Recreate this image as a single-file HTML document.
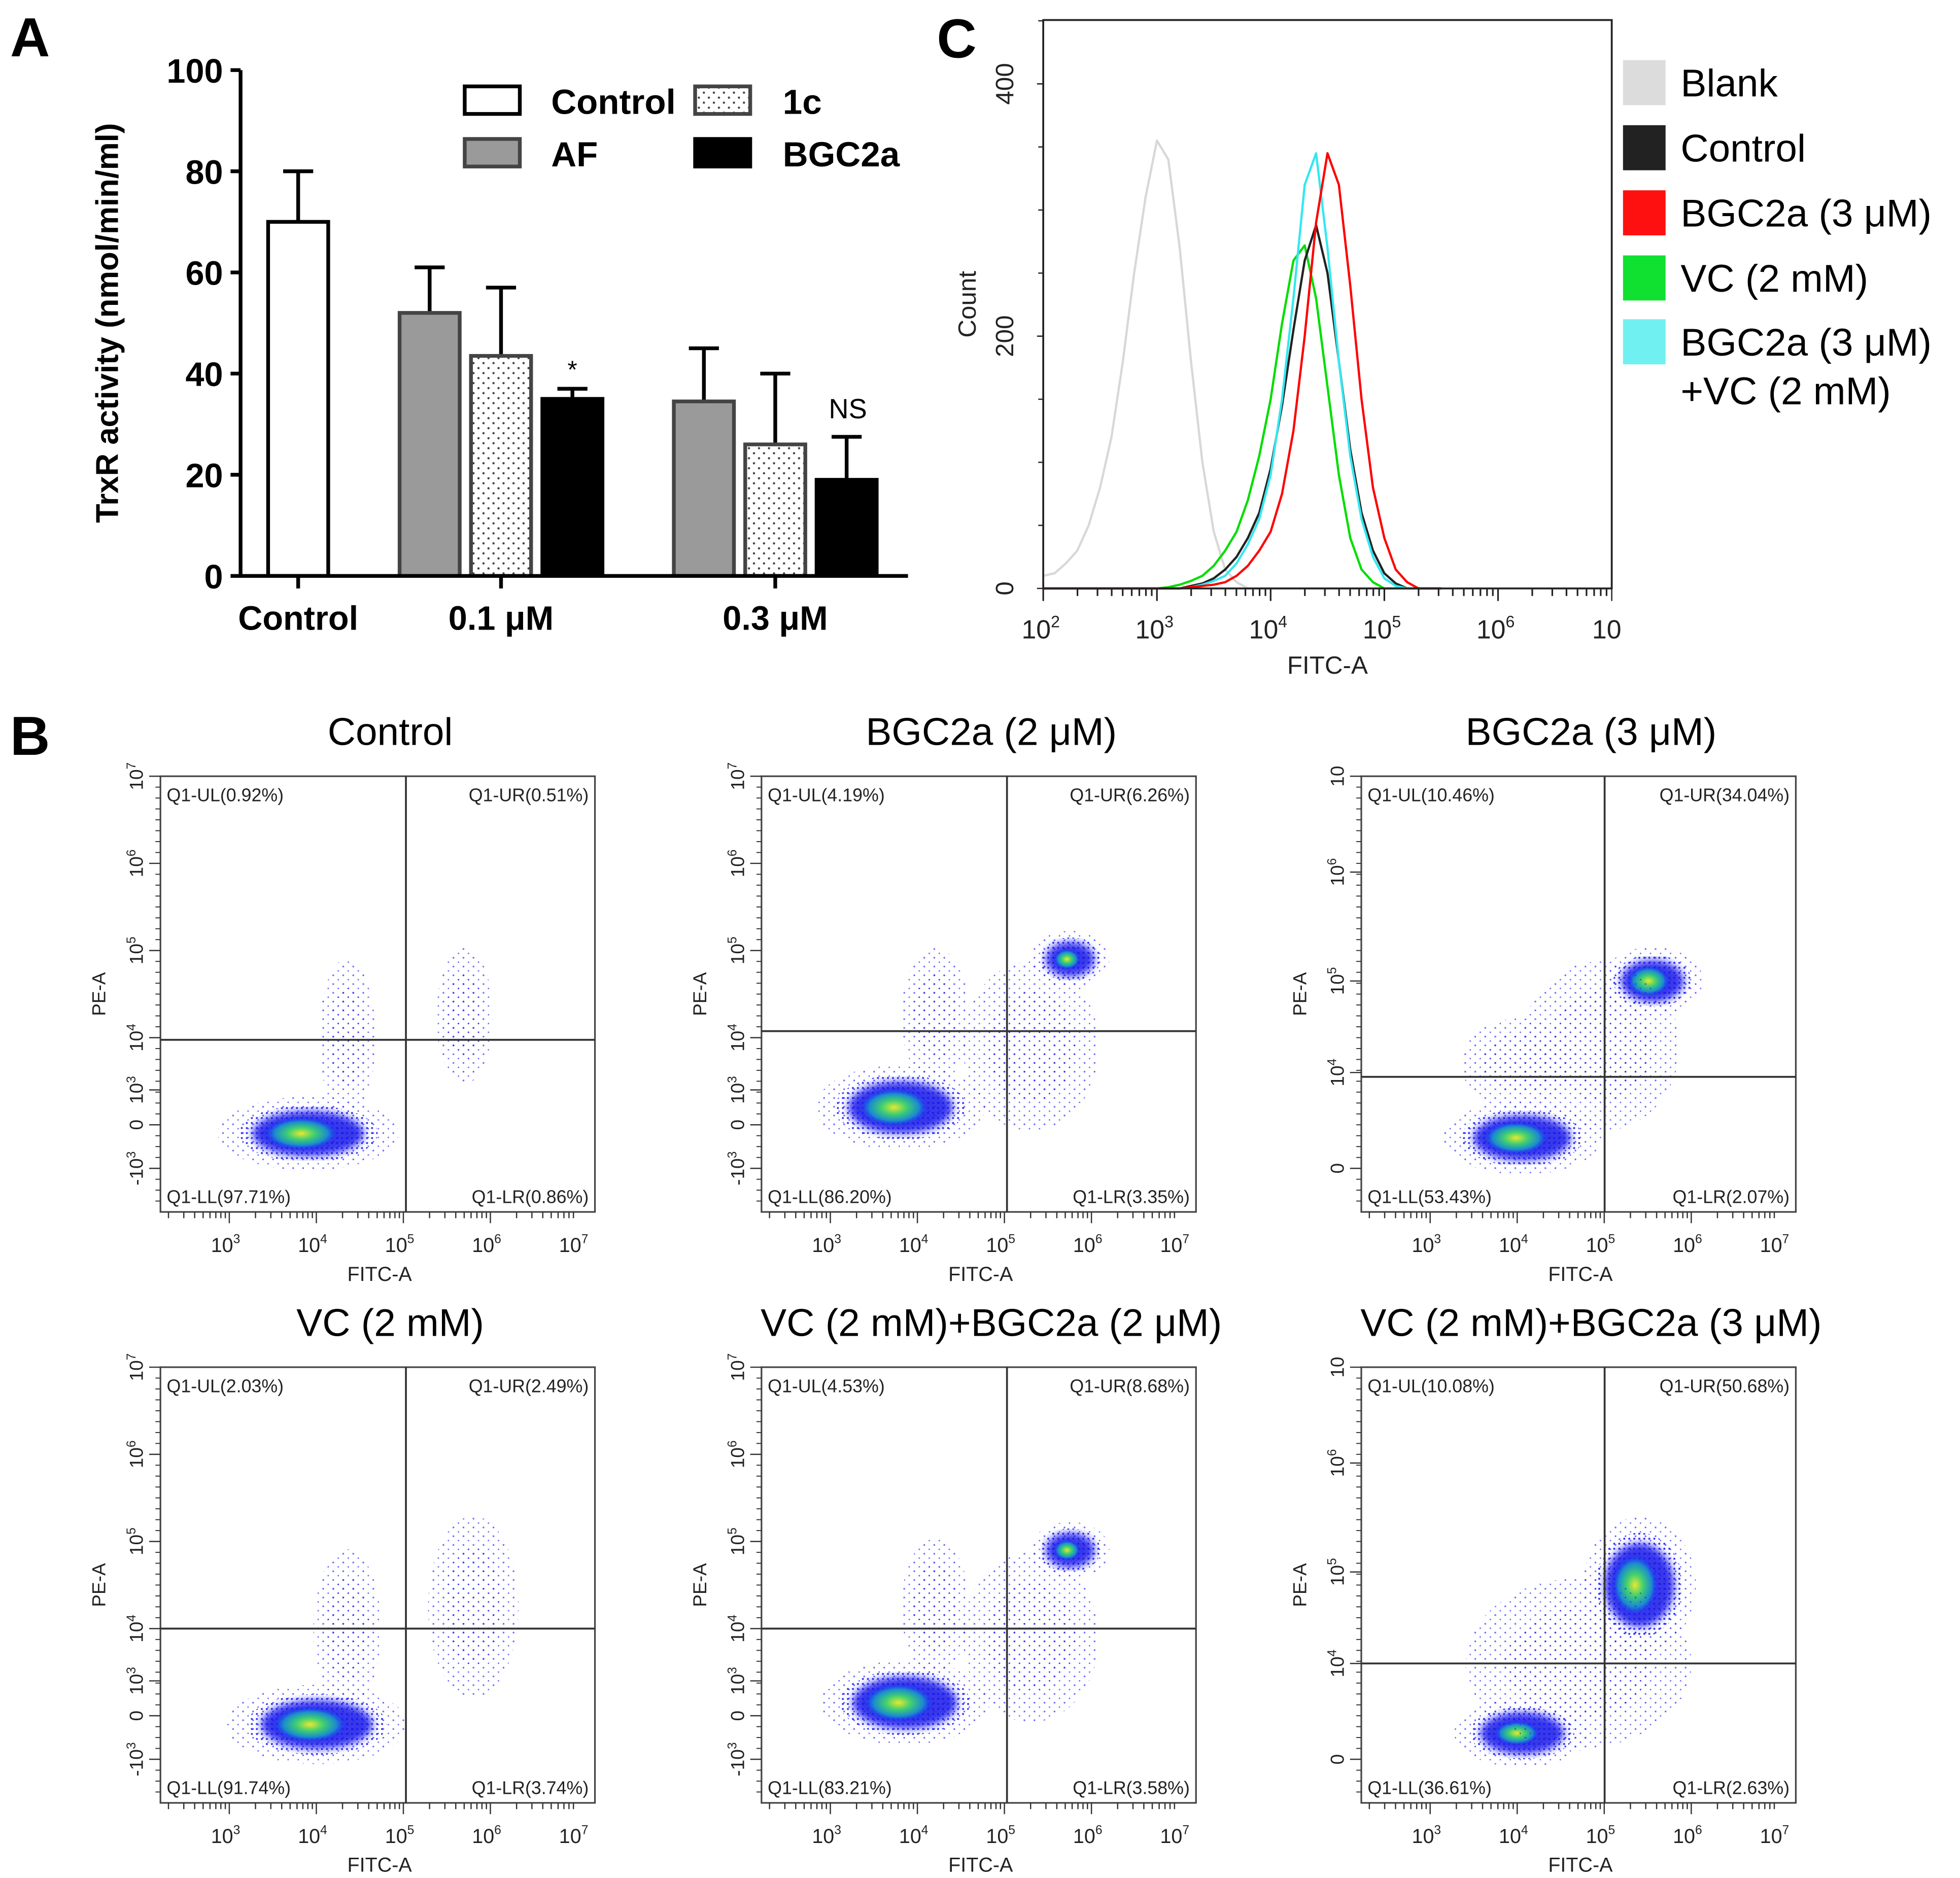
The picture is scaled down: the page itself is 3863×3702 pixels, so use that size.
<!DOCTYPE html>
<html><head><meta charset="utf-8"><style>
html,body{margin:0;padding:0;background:#fff}
svg{display:block}
text{font-family:"Liberation Sans",Arial,sans-serif}
</style></head><body>
<svg id="fig" xmlns="http://www.w3.org/2000/svg" width="3863" height="3702" viewBox="0 0 1565 1500">
<defs>
<pattern id="dots" width="4" height="4" patternUnits="userSpaceOnUse"><circle cx="1" cy="1" r="0.8" fill="#1a1aff"/></pattern>
<pattern id="dots2" width="8" height="7" patternUnits="userSpaceOnUse"><circle cx="2" cy="2" r="0.7" fill="#2a2aff"/><circle cx="6" cy="5.5" r="0.6" fill="#2a2aff"/></pattern>
<pattern id="stip" width="8" height="8" patternUnits="userSpaceOnUse"><rect width="8" height="8" fill="#fff"/><circle cx="2" cy="2" r="0.9" fill="#444"/><circle cx="6" cy="6" r="0.9" fill="#444"/></pattern>
<radialGradient id="core"><stop offset="0" stop-color="#e8e830"/><stop offset="0.35" stop-color="#40d070"/><stop offset="0.7" stop-color="#1a8ad0"/><stop offset="1" stop-color="#1a1aff" stop-opacity="0"/></radialGradient>
<filter id="blur"><feGaussianBlur stdDeviation="3"/></filter>
</defs>
<g id="root"></g>
</svg>
<script>
// ---------- Panel A data ----------
const barGroups = ["Control","0.1 μM","0.3 μM"];
const barSeries = ["Control","AF","1c","BGC2a"];
const barValues = [70, 52, 43.5, 35, 34.5, 26, 19];
const barErrors = [80, 61, 57, 37, 45, 40, 27.5];
const barKinds  = ["Control","AF","1c","BGC2a","AF","1c","BGC2a"];
const barGroupIdx = [0,1,1,1,2,2,2];
const yTicksA = [0,20,40,60,80,100];
// ---------- Panel C data ----------
const histLog = [2.0,2.1,2.2,2.3,2.4,2.5,2.6,2.7,2.8,2.9,3.0,3.1,3.2,3.3,3.4,3.5,3.6,3.7,3.8,3.9,4.0,4.1,4.2,4.3,4.4,4.5,4.6,4.7,4.8,4.9,5.0,5.1,5.2,5.3,5.4,5.5];
const histBlank   = [10,12,20,30,50,80,120,180,250,310,355,340,270,180,100,45,15,5,0,0,0,0,0,0,0,0,0,0,0,0,0,0,0,0,0,0];
const histVC      = [0,0,0,0,0,0,0,0,0,0,0,1,3,6,10,18,30,45,70,105,150,210,260,272,230,160,90,40,15,5,0,0,0,0,0,0];
const histControl = [0,0,0,0,0,0,0,0,0,0,0,0,0,2,4,8,15,25,40,60,95,145,205,260,288,250,180,110,60,30,12,4,0,0,0,0];
const histCombo   = [0,0,0,0,0,0,0,0,0,0,0,0,0,1,3,6,10,20,35,55,90,150,230,320,345,270,180,105,55,25,8,2,0,0,0,0];
const histBGC     = [0,0,0,0,0,0,0,0,0,0,0,0,0,1,2,3,5,10,18,30,45,75,125,200,290,345,320,240,150,80,40,15,5,0,0,0];
const histNames = ["Blank","Control","BGC2a (3 μM)","VC (2 mM)","BGC2a (3 μM)","+VC (2 mM)"];
// ---------- Panel B data ----------
const plotTitles = ["Control","BGC2a (2 μM)","BGC2a (3 μM)","VC (2 mM)","VC (2 mM)+BGC2a (2 μM)","VC (2 mM)+BGC2a (3 μM)"];
const qUL = ["0.92%","4.19%","10.46%","2.03%","4.53%","10.08%"];
const qUR = ["0.51%","6.26%","34.04%","2.49%","8.68%","50.68%"];
const qLL = ["97.71%","86.20%","53.43%","91.74%","83.21%","36.61%"];
const qLR = ["0.86%","3.35%","2.07%","3.74%","3.58%","2.63%"];
const gateX = [0.565,0.565,0.56,0.565,0.565,0.56];
const gateY = [0.605,0.585,0.69,0.6,0.6,0.68];
const clusterPlot = [0,0,0, 1,1,1,1, 2,2,2,2, 3,3,3, 4,4,4,4, 5,5,5];
const clusterX    = [0.34,0.43,0.7, 0.32,0.4,0.71,0.62, 0.37,0.36,0.67,0.55, 0.36,0.43,0.72, 0.33,0.4,0.71,0.62, 0.37,0.64,0.5];
const clusterY    = [0.82,0.6,0.55, 0.76,0.55,0.42,0.62, 0.83,0.66,0.47,0.62, 0.82,0.6,0.55, 0.77,0.55,0.42,0.62, 0.84,0.5,0.68];
const clusterRX   = [0.16,0.05,0.05, 0.15,0.06,0.07,0.12, 0.14,0.1,0.09,0.14, 0.16,0.06,0.08, 0.15,0.06,0.07,0.12, 0.12,0.1,0.2];
const clusterRY   = [0.065,0.14,0.12, 0.075,0.12,0.05,0.15, 0.065,0.08,0.06,0.15, 0.07,0.14,0.16, 0.075,0.12,0.05,0.15, 0.06,0.12,0.15];
const clusterCore = [1,0,0, 1,0,0.8,0, 1,0,1,0, 1,0,0, 1,0,0.8,0, 0.8,1,0];

const NS="http://www.w3.org/2000/svg";
const root=document.getElementById('root');
function mk(tag,attrs,parent,txt){const e=document.createElementNS(NS,tag);for(const k in attrs)e.setAttribute(k,attrs[k]);if(txt!==undefined)e.textContent=txt;(parent||root).appendChild(e);return e;}

// ===== Panel A =====
const gA=mk('g',{});


const t=mk('text',{x:8,y:45,'font-size':44,'font-weight':'bold'},gA,'A');

const yA=v=>460-v*4.04;
const groupCenter=[238,400,619];
const barW=48;
function barX(i){const g=barGroupIdx[i];if(g===0)return groupCenter[0]-barW/2;const k=barKinds[i];const off={AF:-1,"1c":0,BGC2a:1}[k];return groupCenter[g]-barW/2+off*57;}
function barStyle(k){return {Control:{fill:'#fff',stroke:'#000'},AF:{fill:'#9a9a9a',stroke:'#444'},"1c":{fill:'url(#stip)',stroke:'#444'},BGC2a:{fill:'#000',stroke:'#000'}}[k];}
for(let i=0;i<barValues.length;i++){
  const x=barX(i),s=barStyle(barKinds[i]);
  const xc=x+barW/2;
  const eb=mk('path',{d:`M${xc} ${yA(barValues[i])}V${yA(barErrors[i])}M${xc-12} ${yA(barErrors[i])}H${xc+12}`,stroke:'#000','stroke-width':3,fill:'none'},gA);
  
  const r=mk('rect',{x:x,y:yA(barValues[i]),width:barW,height:yA(0)-yA(barValues[i]),fill:s.fill,stroke:s.stroke,'stroke-width':3},gA);
  
}
mk('path',{d:'M192 56V460H725',stroke:'#000','stroke-width':3,fill:'none'},gA);
yTicksA.forEach(v=>{mk('line',{x1:184,x2:192,y1:yA(v),y2:yA(v),stroke:'#000','stroke-width':3},gA);
  const tt=mk('text',{x:178,y:yA(v)+10,'font-size':27,'font-weight':'bold','text-anchor':'end'},gA,v);
  });
barGroups.forEach((g,i)=>{mk('line',{x1:groupCenter[i],x2:groupCenter[i],y1:460,y2:470,stroke:'#000','stroke-width':3},gA);
  const tt=mk('text',{x:groupCenter[i],y:503,'font-size':27,'font-weight':'bold','text-anchor':'middle'},gA,g);
  });
const yt=mk('text',{transform:'translate(94,258) rotate(-90)','font-size':25,'font-weight':'bold','text-anchor':'middle'},gA,'TrxR activity (nmol/min/ml)');

mk('text',{x:457,y:302,'font-size':20,'text-anchor':'middle'},gA,'*');
mk('text',{x:677,y:334,'font-size':22,'text-anchor':'middle'},gA,'NS');
const legA=[[371,69,"Control"],[555,69,"1c"],[371,111,"AF"],[555,111,"BGC2a"]];
legA.forEach(([x,y,n])=>{const s=barStyle(n);
  const r=mk('rect',{x:x,y:y,width:44,height:22,fill:s.fill,stroke:s.stroke,'stroke-width':3},gA);
  
  const tt=mk('text',{x:x+(n==="Control"||n==="AF"?69:70),y:y+22,'font-size':28,'font-weight':'bold'},gA,n);
  });

// ===== Panel C =====
const gC=mk('g',{});


mk('text',{x:748,y:46,'font-size':44,'font-weight':'bold'},gC,'C');
const xC=l=>833+(l-2)*90.8, yC=c=>470-c*1.0075;
const series=[[histBlank,'#d8d8d8','blank'],[histVC,'#00dd00','vc'],[histControl,'#222','control'],[histCombo,'#33e8f0','bgc2a-vc'],[histBGC,'#ff0000','bgc2a']];
series.forEach(([arr,col,nm])=>{
  let d='';arr.forEach((c,i)=>{d+=(i?'L':'M')+xC(histLog[i]).toFixed(1)+' '+yC(c).toFixed(1);});
  const p=mk('path',{d:d,stroke:col,'stroke-width':1.8,fill:'none','stroke-linejoin':'round'},gC);
  
});
mk('rect',{x:833,y:16,width:454,height:454,fill:'none',stroke:'#222','stroke-width':1.5},gC);
[0,200,400].forEach(v=>{mk('line',{x1:828,x2:833,y1:yC(v),y2:yC(v),stroke:'#222'},gC);
  mk('text',{transform:`translate(809,${yC(v)}) rotate(-90)`,'font-size':20,'text-anchor':'middle',fill:'#222'},gC,v);});
for(let v=50;v<=450;v+=50){mk('line',{x1:829,x2:833,y1:yC(v),y2:yC(v),stroke:'#222'},gC);}
for(let dec=2;dec<7;dec++){for(let m=1;m<10;m++){const x=xC(dec+Math.log10(m));mk('line',{x1:x,x2:x,y1:470,y2:m===1?480:476,stroke:'#222','stroke-width':1.3},gC);}}
mk('line',{x1:1287,x2:1287,y1:470,y2:480,stroke:'#222'},gC);
const cLab=["2","3","4","5","6"];
cLab.forEach((e,i)=>{const tt=mk('text',{x:xC(2+i)-2,y:510,'font-size':21,'text-anchor':'middle',fill:'#222'},gC,'10');
  mk('tspan',{dy:-9,'font-size':13},tt,e);});
mk('text',{x:1283,y:510,'font-size':21,'text-anchor':'middle',fill:'#222'},gC,'10');
mk('text',{x:1060,y:538,'font-size':20,'text-anchor':'middle',fill:'#222'},gC,'FITC-A');
mk('text',{transform:'translate(779,243) rotate(-90)','font-size':20,'text-anchor':'middle',fill:'#222'},gC,'Count');
const legCols=['#dcdcdc','#222','#ff1010','#10e030','#70f0f0'];
const legY=[48,100,152,204,255];
legCols.forEach((c,i)=>{const r=mk('rect',{x:1296,y:legY[i],width:34,height:36,fill:c},gC);
  
  const tt=mk('text',{x:1342,y:legY[i]+29,'font-size':31},gC,histNames[i]);
  });
mk('text',{x:1342,y:323,'font-size':31},gC,histNames[5]);

// ===== Panel B =====
const gB=mk('g',{});


mk('text',{x:8,y:603,'font-size':44,'font-weight':'bold'},gB,'B');
const boxL=[128,608,1087], boxT=[620,1092], bw=347, bh=348;
plotTitles.forEach((title,p)=>{
  const L=boxL[p%3], T=boxT[Math.floor(p/3)];
  const g=mk('g',{},gB);
  
  
  const tt=mk('text',{x:L+bw/2+10,y:T-25,'font-size':31,'text-anchor':'middle'},g,title);
  
  for(let c=0;c<clusterPlot.length;c++){ if(clusterPlot[c]!==p) continue;
    const cx=L+clusterX[c]*bw, cy=T+clusterY[c]*bh, rx=clusterRX[c]*bw, ry=clusterRY[c]*bh;
    const e1=mk('ellipse',{cx:cx,cy:cy,rx:rx*1.3,ry:ry*1.3,fill:'url(#dots2)',opacity:0.7},g);
    
    if(clusterCore[c]>0){
      mk('ellipse',{cx:cx,cy:cy,rx:rx,ry:ry,fill:'url(#dots)',opacity:0.9},g);
      mk('ellipse',{cx:cx,cy:cy,rx:rx*0.8,ry:ry*0.8,fill:'#1515e8',opacity:0.85,filter:'url(#blur)'},g);
      const e2=mk('ellipse',{cx:cx-rx*0.1,cy:cy,rx:rx*0.55*clusterCore[c],ry:ry*0.6*clusterCore[c],fill:'url(#core)'},g);
      
    } else {
      mk('ellipse',{cx:cx,cy:cy,rx:rx*0.85,ry:ry*0.85,fill:'url(#dots2)',opacity:0.8},g);
    }
  }
  mk('rect',{x:L,y:T,width:bw,height:bh,fill:'none',stroke:'#444','stroke-width':1.3},g);
  const gx=L+gateX[p]*bw, gy=T+gateY[p]*bh;
  mk('line',{x1:gx,x2:gx,y1:T,y2:T+bh,stroke:'#333','stroke-width':1.5},g);
  mk('line',{x1:L,x2:L+bw,y1:gy,y2:gy,stroke:'#333','stroke-width':1.5},g);
  const fs=14.5;
  mk('text',{x:L+5,y:T+20,'font-size':fs,fill:'#222'},g,'Q1-UL('+qUL[p]+')');
  mk('text',{x:L+bw-5,y:T+20,'font-size':fs,'text-anchor':'end',fill:'#222'},g,'Q1-UR('+qUR[p]+')');
  mk('text',{x:L+5,y:T+bh-7,'font-size':fs,fill:'#222'},g,'Q1-LL('+qLL[p]+')');
  mk('text',{x:L+bw-5,y:T+bh-7,'font-size':fs,'text-anchor':'end',fill:'#222'},g,'Q1-LR('+qLR[p]+')');
  const xb=d=>L+55+(d-3)*69.5;
  for(let d=2;d<7;d++){for(let m=1;m<10;m++){const x=xb(d+Math.log10(m));if(x<L||x>L+bw)continue;mk('line',{x1:x,x2:x,y1:T+bh,y2:T+bh+(m===1?9:5),stroke:'#333'},g);}}
  for(let d=3;d<=7;d++){const tx=mk('text',{x:xb(d)-3,y:T+bh+32,'font-size':16,'text-anchor':'middle',fill:'#222'},g,'10');mk('tspan',{dy:-7,'font-size':10},tx,String(d));}
  mk('text',{x:L+175,y:T+bh+55,'font-size':16,'text-anchor':'middle',fill:'#222'},g,'FITC-A');
  const ylabs = (p%3===2)?[["10",0],["6",0.22],["5",0.47],["4",0.68],["0",0.9]]:[["7",0],["6",0.2],["5",0.4],["4",0.6],["3",0.72],["0",0.8],["-3",0.9]];
  ylabs.forEach(([e,f])=>{const y=T+f*bh;mk('line',{x1:L-9,x2:L,y1:y,y2:y,stroke:'#333'},g);
    const ty=mk('text',{transform:`translate(${L-14},${y}) rotate(-90)`,'font-size':15,'text-anchor':'middle',fill:'#222'},g,e==='0'?'0':(e==='-3'?'-10':'10'));
    if(e!=='0'&&e!=='10'){mk('tspan',{dy:-6,'font-size':10},ty,e==='-3'?'3':e);}});
  for(let k=0;k<40;k++){const y=T+k*bh/40;mk('line',{x1:L-4,x2:L,y1:y,y2:y,stroke:'#333','stroke-width':0.8},g);}
  mk('text',{transform:`translate(${L-44},${T+bh*0.5}) rotate(-90)`,'font-size':15,'text-anchor':'middle',fill:'#222'},g,'PE-A');
});
</script>
</body></html>
